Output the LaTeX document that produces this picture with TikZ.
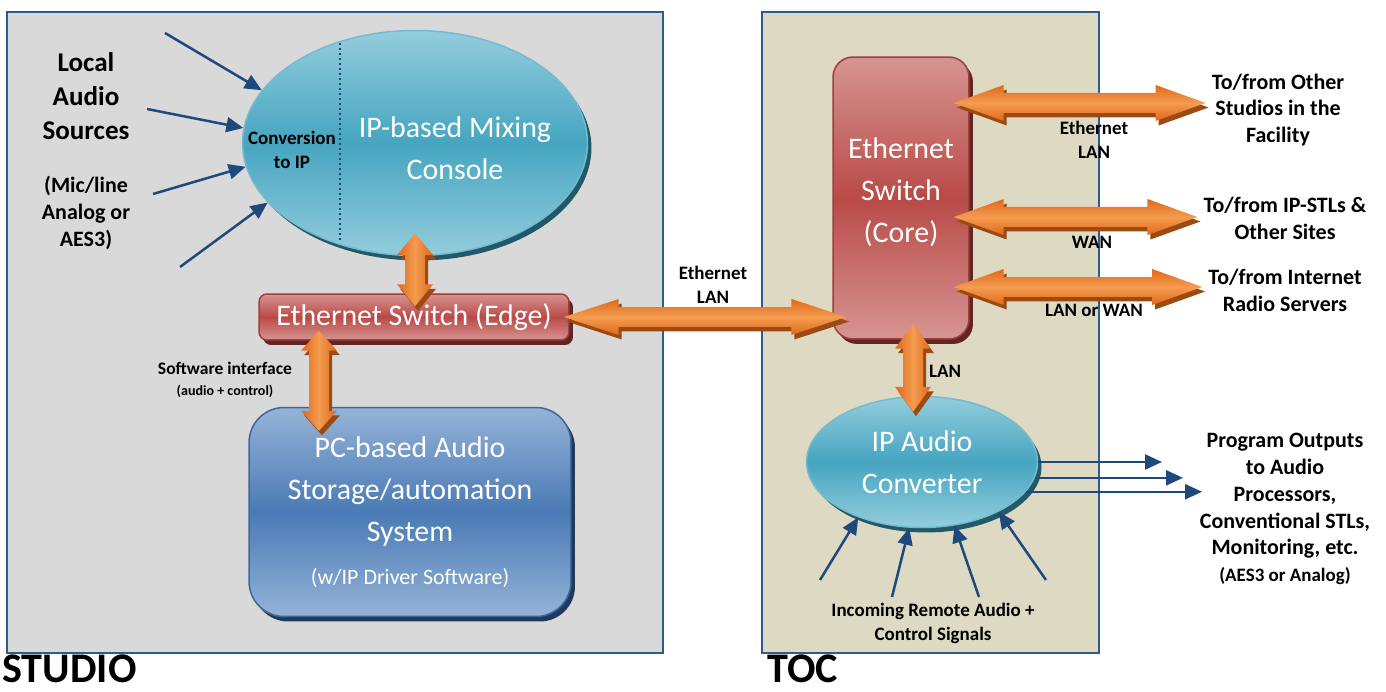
\documentclass[tikz,border=0pt]{standalone}
\usepackage{fontspec}
\setmainfont{Carlito}
\usetikzlibrary{shapes.geometric}
\usetikzlibrary{shadows}
\usetikzlibrary{arrows.meta}
\usetikzlibrary{calc}

\definecolor{panelblue}{HTML}{2F5A8C}
\definecolor{studiogray}{HTML}{D9D9D9}
\definecolor{tocbeige}{HTML}{DDD9C3}
\definecolor{linkblue}{HTML}{1F497D}
\definecolor{tealhi}{HTML}{93CDDD}
\definecolor{tealmid}{HTML}{46A5C0}
\definecolor{tealdark}{HTML}{215968}
\definecolor{redhi}{HTML}{D69592}
\definecolor{redmid}{HTML}{B94A47}
\definecolor{reddark}{HTML}{632523}
\definecolor{bluehi}{HTML}{95B3D7}
\definecolor{bluemid}{HTML}{4A7AB5}
\definecolor{bluedark}{HTML}{1F3A5F}
\definecolor{orangeend}{HTML}{E0681A}
\definecolor{orangemid}{HTML}{F49C50}
\definecolor{orangedark}{HTML}{9A4A12}

% outline of a fat double arrow between (fa) and (fb), head length #1
\newcommand{\fatshape}[1]{(fa) -- ($(fa)!#1!(fb)!0.36cm!90:(fb)$) -- ($(fa)!#1!(fb)!0.2cm!90:(fb)$)
  -- ($(fb)!#1!(fa)!0.2cm!-90:(fa)$) -- ($(fb)!#1!(fa)!0.36cm!-90:(fa)$) -- (fb)
  -- ($(fb)!#1!(fa)!0.36cm!90:(fa)$) -- ($(fb)!#1!(fa)!0.2cm!90:(fa)$)
  -- ($(fa)!#1!(fb)!0.2cm!-90:(fb)$) -- ($(fa)!#1!(fb)!0.36cm!-90:(fb)$) -- cycle}

\newcommand{\fatlink}[4]{%
  \path (#1) coordinate (fa) (#2) coordinate (fb);
  \fill[orangedark, transform canvas={xshift=0.06cm, yshift=-0.09cm}] \fatshape{#3};
  \shade[left color=orangeend, right color=orangeend, middle color=orangemid, shading angle=#4] \fatshape{#3};
}

\begin{document}
\begin{tikzpicture}[x=0.02cm, y=-0.02cm,
    panel/.style={draw=panelblue, line width=0.04cm},
    ipoval/.style={ellipse, draw=tealmid!75!white, line width=0.03cm,
        top color=tealhi, bottom color=tealhi, middle color=tealmid,
        drop shadow={shadow xshift=0.08cm, shadow yshift=-0.1cm, fill=tealdark, opacity=1},
        inner sep=0pt, boxtxt},
    switchbox/.style={rectangle, draw=redmid!85!black, line width=0.03cm,
        top color=redhi, bottom color=redhi, middle color=redmid,
        drop shadow={shadow xshift=0.08cm, shadow yshift=-0.1cm, fill=reddark, opacity=1},
        inner sep=0pt, boxtxt},
    pcbox/.style={rectangle, rounded corners=0.7cm, draw=bluemid!85!black, line width=0.03cm,
        top color=bluehi, bottom color=bluehi, middle color=bluemid,
        drop shadow={shadow xshift=0.08cm, shadow yshift=-0.1cm, fill=bluedark, opacity=1},
        inner sep=0pt, boxtxt},
    boxtxt/.style={text=white, align=center, font=\fontsize{17}{24}\selectfont},
    bigbold/.style={align=center, font=\bfseries\fontsize{15.4}{19.3}\selectfont},
    midbold/.style={align=center, font=\bfseries\fontsize{12.5}{15.3}\selectfont},
    smallbold/.style={align=center, font=\bfseries\fontsize{10.8}{13.6}\selectfont},
    tinybold/.style={align=center, font=\bfseries\fontsize{10}{12}\selectfont},
    titletxt/.style={anchor=west, inner sep=0pt, font=\bfseries\fontsize{24}{28}\selectfont},
    feed/.style={draw=linkblue, line width=0.05cm, -{Triangle[length=0.34cm, width=0.3cm]}},
    dotsep/.style={draw=linkblue, line width=0.05cm, dash pattern=on 0.05cm off 0.05cm}
    ]

    \useasboundingbox (0,0) rectangle (1386,692);

    % the two rooms
    \draw[panel, fill=studiogray] (7,12) rectangle (663,653);
    \draw[panel, fill=tocbeige] (762,12) rectangle (1099,653);

    \node[titletxt] (studio) at (2,669) {STUDIO};
    \node[titletxt] (toc) at (767,669) {TOC};

    % studio side
    \node[ipoval, minimum width=6.9cm, minimum height=4.5cm] (console) at (415,143) {};
    \draw[dotsep] (340,43) -- (340,242);
    \node[smallbold] (convtxt) at (292,150) {Conversion\\to IP};
    \node[boxtxt] (mixtxt) at (455,148) {IP-based Mixing\\Console};

    \node[bigbold] (localsrc) at (86,96) {Local\\Audio\\Sources};
    \node[midbold] (micline) at (86,213) {(Mic/line\\Analog or\\AES3)};

    \coordinate (src1) at (165,33);
    \coordinate (src2) at (147,109);
    \coordinate (src3) at (153,194);
    \coordinate (src4) at (180,267);
    \draw[feed] (src1) -- (console.161);
    \draw[feed] (src2) -- (console.175);
    \draw[feed] (src3) -- (console.188);
    \draw[feed] (src4) -- (console.202);

    \node[switchbox, rounded corners=0.16cm, minimum width=6.2cm, minimum height=0.92cm
        ] (edge) at (414,317) {Ethernet Switch (Edge)};

    \node[pcbox, minimum width=6.44cm, minimum height=4.18cm
        ] (pc) at (410,512) {PC-based Audio\\Storage/automation\\System\\{\fontsize{12.5}{15}\selectfont (w/IP Driver Software)}};

    \node[tinybold] (swif) at (225,380) {Software interface\\{\fontsize{8}{9}\selectfont (audio + control)}};

    % TOC side
    \node[switchbox, rounded corners=0.4cm, minimum width=2.72cm, minimum height=5.64cm
        ] (core) at (901,198) {};
    \node[boxtxt] (coretxt) at (901,192) {Ethernet\\Switch\\(Core)};

    \node[ipoval, minimum width=4.62cm, minimum height=2.62cm] (conv) at (922,462) {IP Audio\\Converter};

    \coordinate (in1) at (820,580);
    \coordinate (in2) at (892,597);
    \coordinate (in3) at (979,597);
    \coordinate (in4) at (1046,580);
    \draw[feed] (in1) -- (conv.221);
    \draw[feed] (in2) -- (conv.259);
    \draw[feed] (in3) -- (conv.297);
    \draw[feed] (in4) -- (conv.327);
    \node[smallbold] (incoming) at (933,623) {Incoming Remote Audio +\\Control Signals};

    \coordinate (out1) at (1162,462);
    \coordinate (out2) at (1183,477);
    \coordinate (out3) at (1202,492);
    \draw[feed] (conv.0) -- (out1 |- conv.0);
    \draw[feed] (conv.352) -- (out2 |- conv.352);
    \draw[feed] (conv.344) -- (out3 |- conv.344);

    \node[midbold] (others) at (1278,110) {To/from Other\\Studios in the\\Facility};
    \node[midbold] (ipstl) at (1285,218) {To/from IP-STLs \&\\Other Sites};
    \node[midbold] (radio) at (1285,290) {To/from Internet\\Radio Servers};
    \node[midbold] (outputs) at (1285,509) {Program Outputs\\to Audio\\Processors,\\Conventional STLs,\\Monitoring, etc.\\{\fontsize{10.8}{13}\selectfont (AES3 or Analog)}};

    \node[smallbold] (lanlbl1) at (713,285) {Ethernet\\LAN};
    \node[smallbold] (lanlbl2) at (1094,140) {Ethernet\\LAN};
    \node[smallbold] (wanlbl) at (1092,242) {WAN};
    \node[smallbold] (lanwan) at (1094,310) {LAN or WAN};
    \node[smallbold] (lanlbl3) at (945,371) {LAN};

    % fat orange links
    \fatlink{$(console.south)+(0,-23)$}{$(fa |- edge.north)+(0,13)$}{0.44cm}{90}
    \fatlink{$(edge.south)+(-95,-10)$}{$(fa |- pc.north)+(0,24)$}{0.4cm}{90}
    \fatlink{$(edge.east)+(-6,0)$}{$(core.west |- fa)+(14,0)$}{1.1cm}{0}
    \fatlink{$(core.south)+(12,-16)$}{$(fa |- conv.north)+(0,16)$}{0.5cm}{90}
    \fatlink{$(core.east)+(-16,-95)$}{others.west |- fa}{1.0cm}{0}
    \fatlink{$(core.east)+(-16,19)$}{ipstl.west |- fa}{1.0cm}{0}
    \fatlink{$(core.east)+(-16,89)$}{radio.west |- fa}{1.0cm}{0}

\end{tikzpicture}
\end{document}
